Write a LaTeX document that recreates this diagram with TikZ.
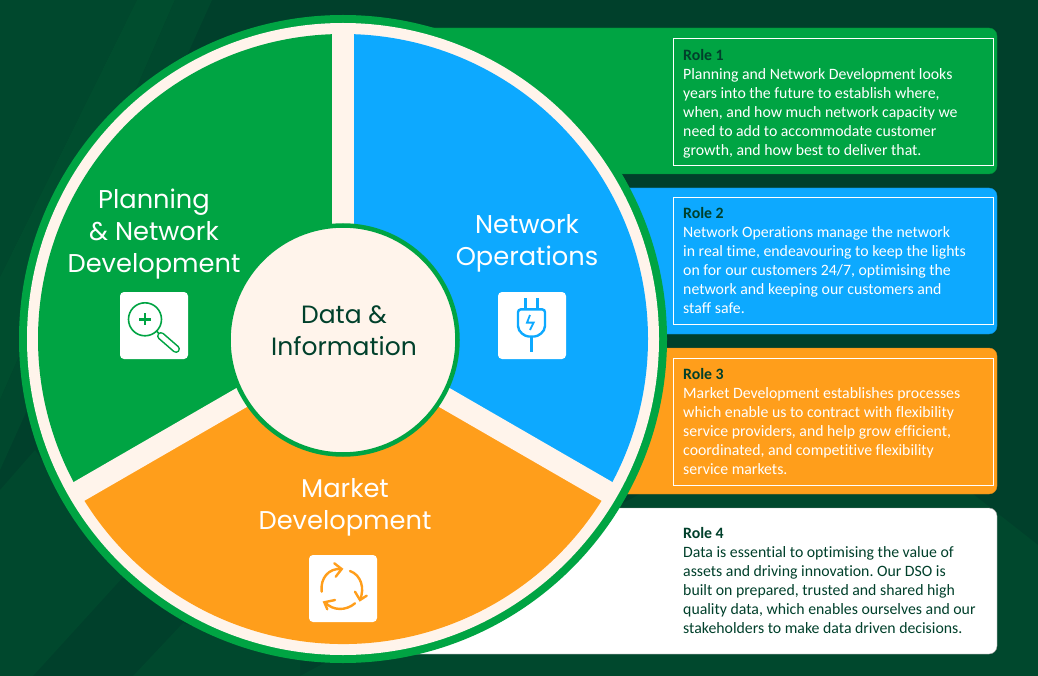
\documentclass[tikz,border=0pt]{standalone}
\usepackage{fontspec}
\setmainfont[Ligatures=NoCommon]{Carlito}
\newfontfamily\headfont{Poppins}
\definecolor{bgdark}{HTML}{00402B}
\definecolor{bgmid}{HTML}{00482D}
\definecolor{bglight}{HTML}{004D2E}
\definecolor{dsogreen}{HTML}{00A443}
\definecolor{dsoblue}{HTML}{0DA9FF}
\definecolor{dsoorange}{HTML}{FF9E1B}
\definecolor{dsocream}{HTML}{FFF4EB}
\begin{document}
\begin{tikzpicture}[x=1pt,y=1pt]
    \tikzstyle{every node}+=[inner sep=0pt]
    \tikzstyle{roletext}=[anchor=north west,align=left,text=white,font=\frenchspacing\fontsize{15.8}{19}\selectfont]
    \tikzstyle{heading}=[align=center,text=white,font=\headfont\fontsize{25.7}{32}\selectfont]
    \tikzstyle{tile}=[fill=white,rounded corners=4]
    \useasboundingbox (0,-676) rectangle (1038,0);
%   background
    \fill [bgdark] (0,-676) rectangle (1038,0);
    \fill [bgmid] (0,0) -- (137,0) -- (0,-277) -- cycle;
    \fill [bglight] (137,0) -- (175,0) -- (0,-400) -- (0,-277) -- cycle;
    \fill [bgmid] (175,0) -- (212,0) -- (0,-470) -- (0,-400) -- cycle;
    \fill [bgmid] (0,-490) -- (35,-450) -- (125,-575) -- (33,-676) -- (0,-676) -- cycle;
    \fill [bgmid] (183,-623) -- (300,-660) -- (300,-676) -- (133,-676) -- cycle;
    \fill [bgmid] (640,-494) -- (973,-494) -- (1038,-545) -- (1038,-676) -- (300,-676) -- cycle;
%   panels
    \draw [dsogreen!85!black,fill=dsogreen,rounded corners=8] (330,-28) rectangle (997,-174);
    \draw [dsoblue!85!black,fill=dsoblue,rounded corners=8] (330,-188) rectangle (997,-334);
    \draw [dsoorange!85!black,fill=dsoorange,rounded corners=8] (330,-348) rectangle (997,-494);
    \draw [white!60!black,fill=white,rounded corners=8] (330,-508) rectangle (997,-654);
    \draw [white] (673.5,-38) rectangle (993,-165);
    \draw [white] (673.5,-197.5) rectangle (993,-324);
    \draw [white] (673.5,-358) rectangle (993,-485);
%   role texts
    \draw (683,-49.5) node [roletext] (roleA) {\textcolor{bgdark}{\textbf{Role 1}}\\Planning and Network Development looks\\years into the future to establish where,\\when, and how much network capacity we\\need to add to accommodate customer\\growth, and how best to deliver that.};
    \draw (683,-207.5) node [roletext] (roleB) {\textcolor{bgdark}{\textbf{Role 2}}\\Network Operations manage the network\\in real time, endeavouring to keep the lights\\on for our customers 24/7, optimising the\\network and keeping our customers and\\staff safe.};
    \draw (683,-368) node [roletext] (roleC) {\textcolor{bgdark}{\textbf{Role 3}}\\Market Development establishes processes\\which enable us to contract with flexibility\\service providers, and help grow efficient,\\coordinated, and competitive flexibility\\service markets.};
    \draw (683,-527.5) node [roletext,text=bgdark] (roleD) {\textbf{Role 4}\\Data is essential to optimising the value of\\assets and driving innovation. Our DSO is\\built on prepared, trusted and shared high\\quality data, which enables ourselves and our\\stakeholders to make data driven decisions.};
%   wheel
    \coordinate (rim) at (343,-339);
    \coordinate (hub) at (343,-340);
    \fill [dsogreen] (rim) circle (324);
    \fill [dsocream] (rim) circle (316);
    \fill [dsogreen] (rim) -- ++(90:305) arc (90:210:305) -- cycle;
    \fill [dsoblue] (rim) -- ++(90:305) arc (90:-30:305) -- cycle;
    \fill [dsoorange] (rim) -- ++(210:305) arc (210:330:305) -- cycle;
    \draw [dsocream,line width=21.6] (rim) -- ++(90:310);
    \draw [dsocream,line width=21.6] (rim) -- ++(210:310);
    \draw [dsocream,line width=21.6] (rim) -- ++(330:310);
    \draw [dsogreen,line width=4.5,fill=dsocream] (hub) circle (114.5);
%   wheel labels
    \draw (154,-234) node [heading] (planning) {Planning\\\& Network\\Development};
    \draw (527,-243) node [heading] (operations) {Network\\Operations};
    \draw (345,-507) node [heading] (market) {Market\\Development};
    \draw (344,-331) node [heading,font=\headfont\fontsize{25}{32}\selectfont,text=bgdark] (data) {Data \&\\Information};
%   magnifier icon
    \fill [tile] (120,-292) rectangle (188,-359);
    \draw [dsogreen,line width=1.6] (145,-319.3) circle (16.5);
    \draw [dsogreen,line width=2.6] (139,-319.3) -- (151,-319.3);
    \draw [dsogreen,line width=2.6] (145,-313.3) -- (145,-325.3);
    \draw [dsogreen,line width=1.6] (156.7,-331) -- (160,-335);
    \draw [dsogreen,line width=8,line cap=round] (161,-336) -- (176,-349);
    \draw [white,line width=4.8,line cap=round] (161,-336) -- (176,-349);
%   plug icon
    \fill [tile] (498,-292) rectangle (566,-359);
    \draw [dsoblue,line width=3] (525.7,-298.3) -- (525.7,-309.3);
    \draw [dsoblue,line width=3] (537.3,-298.3) -- (537.3,-309.3);
    \draw [dsoblue,line width=2.4,rounded corners=3] (518,-309.3) -- (545,-309.3) -- (545,-323) .. controls (545,-332) and (538,-336.5) .. (531.5,-336.5) .. controls (525,-336.5) and (518,-332) .. (518,-323) -- cycle;
    \draw [dsoblue,line width=3] (531.3,-336.5) -- (531.3,-351.7);
    \draw [dsoblue,line width=1.8] (530,-315) -- (527,-322.6) -- (533.6,-322.6) -- (530,-330);
%   cycle icon
    \fill [tile] (309,-555) rectangle (377,-622);
    \draw [dsoorange,line width=2.4,line cap=round] (321.7,-591.7) .. controls (320,-578) and (329,-568) .. (341,-569);
    \draw [dsoorange,line width=2.4,line cap=round] (334.3,-563.3) -- (341.7,-569) -- (335.7,-576.7);
    \draw [dsoorange,line width=2.4,line cap=round] (350,-571) .. controls (361,-575) and (365,-588) .. (360,-600);
    \draw [dsoorange,line width=2.4,line cap=round] (355,-591.7) -- (360,-600) -- (366.7,-595.7);
    \draw [dsoorange,line width=2.4,line cap=round] (355,-603.3) .. controls (346,-611) and (333,-611) .. (325,-602.3);
    \draw [dsoorange,line width=2.4,line cap=round] (335,-600) -- (324.3,-602.3) -- (327.3,-609.3);
\end{tikzpicture}
\end{document}
